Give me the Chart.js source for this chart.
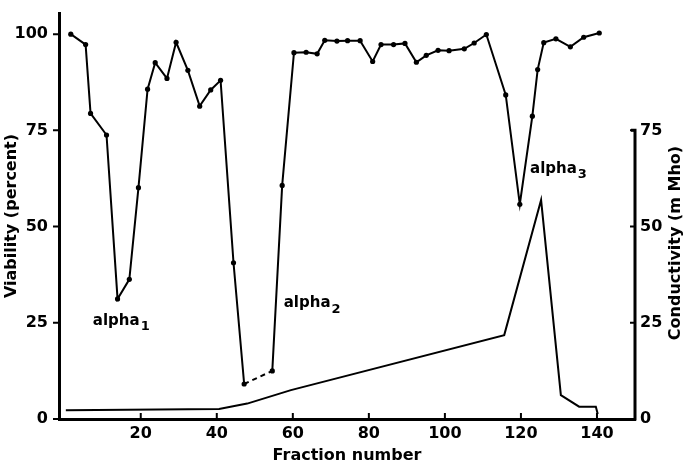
<!DOCTYPE html>
<html lang="en">
<head>
  <meta charset="UTF-8">
  <title>Viability and conductivity</title>
  <script src="https://cdn.jsdelivr.net/npm/chart.js@4/dist/chart.umd.min.js"></script>
  <style>
    html, body { margin: 0; padding: 0; background: #fff; }
    #wrap { width: 685px; height: 465px; }
  </style>
</head>
<body>
  <div id="wrap"><canvas id="myChart"></canvas></div>

  <script>
  // viability curve (fraction number vs percent)
  var fraction = [1.6, 5.5, 6.8, 11, 13.9, 17, 19.4, 21.8, 23.8, 26.9, 29.3, 32.4, 35.5, 38.4, 41, 44.4, 47.2, 54.6, 57.2, 60.3,
    63.5, 66.4, 68.4, 71.6, 74.4, 77.7, 81, 83.2, 86.5, 89.5, 92.5, 95.1, 98.2, 101.1, 105.1, 107.7, 110.9, 116, 119.7, 123,
    124.4, 126, 129.2, 133, 136.5, 140.6];
  var viability = [100, 97.3, 79.4, 73.8, 31.2, 36.3, 60.1, 85.7, 92.6, 88.5, 97.9, 90.6, 81.3, 85.5, 88, 40.6, 9.1, 12.5, 60.7, 95.2,
    95.3, 94.9, 98.4, 98.2, 98.3, 98.3, 92.9, 97.3, 97.3, 97.6, 92.7, 94.5, 95.8, 95.7, 96.2, 97.7, 99.9, 84.2, 55.8, 78.7,
    90.8, 97.8, 98.8, 96.7, 99.2, 100.3];

  // conductivity curve (mMho)
  var condFraction = [0.3, 40.6, 48, 59.5, 115.6, 125.3, 130.5, 135.3, 139.7, 140.2];
  var conductivity = [2.3, 2.6, 4, 7.5, 21.8, 56.9, 6.2, 3.2, 3.2, 1.3];

  var xTicks = [20, 40, 60, 80, 100, 120, 140];
  var leftTicks = [0, 25, 50, 75, 100];
  var rightTicks = [0, 25, 50, 75];

  // peak labels: text, subscript, fraction, value
  var peakLabels = [
    ['alpha', '1', 7.4, 25.5],
    ['alpha', '2', 57.6, 30],
    ['alpha', '3', 122.4, 65]
  ];

  var FONT = '"DejaVu Sans", sans-serif';

  function toXY(xs, ys) {
    return xs.map(function(x, i){ return {x: x, y: ys[i]}; });
  }

  var extras = {
    id: 'extras',
    afterDraw: function(chart) {
      var c = chart.ctx, a = chart.chartArea;
      var xs = chart.scales.x, yl = chart.scales.y, yr = chart.scales.y2;
      c.save();
      c.strokeStyle = '#000';
      c.fillStyle = '#000';
      c.lineWidth = 2;
      c.beginPath();
      xTicks.forEach(function(v){
        var px = xs.getPixelForValue(v);
        c.moveTo(px, a.bottom); c.lineTo(px, a.bottom - 6);
      });
      leftTicks.forEach(function(v){
        var py = yl.getPixelForValue(v);
        c.moveTo(a.left, py); c.lineTo(a.left - 6, py);
      });
      rightTicks.forEach(function(v){
        var py = yr.getPixelForValue(v);
        c.moveTo(a.right, py); c.lineTo(a.right - 5, py);
      });
      c.stroke();

      // right axis only reaches 75
      c.lineWidth = 3;
      c.beginPath();
      c.moveTo(a.right, yr.getPixelForValue(0) + 1.5);
      c.lineTo(a.right, yr.getPixelForValue(75));
      c.lineTo(a.right - 4, yr.getPixelForValue(75));
      c.stroke();

      // right axis title, reading upward
      c.font = 'bold 16px ' + FONT;
      c.textAlign = 'center';
      c.textBaseline = 'middle';
      c.translate(676, 243);
      c.rotate(-Math.PI / 2);
      c.fillText('Conductivity (m Mho)', 0, 0);
      c.restore();

      c.save();
      c.fillStyle = '#000';
      c.textBaseline = 'middle';
      c.textAlign = 'left';
      peakLabels.forEach(function(p){
        var px = xs.getPixelForValue(p[2]);
        var py = yl.getPixelForValue(p[3]);
        c.font = 'bold 15px ' + FONT;
        c.fillText(p[0], px, py);
        var w = c.measureText(p[0]).width;
        c.font = 'bold 13px ' + FONT;
        c.fillText(p[1], px + w + 1, py + 6);
      });
      c.restore();
    }
  };

  var ctx = document.getElementById('myChart');
  var myChart = new Chart(ctx, {
    type: 'line',
    data: {
      datasets: [{
        label: 'Viability',
        data: toXY(fraction, viability),
        yAxisID: 'y',
        borderColor: '#000',
        backgroundColor: '#000',
        borderWidth: 2,
        pointRadius: 2.6,
        pointBorderWidth: 0,
        fill: false,
        tension: 0,
        segment: {
          borderDash: function(s){ return (s.p0.parsed.x > 46 && s.p0.parsed.x < 50) ? [5, 4] : undefined; }
        }
      }, {
        label: 'Conductivity',
        data: toXY(condFraction, conductivity),
        yAxisID: 'y2',
        borderColor: '#000',
        borderWidth: 2,
        pointRadius: 0,
        fill: false,
        tension: 0
      }]
    },
    options: {
      responsive: true,
      maintainAspectRatio: false,
      animation: false,
      layout: { padding: { top: 13, right: 0, left: 0, bottom: 0 } },
      plugins: { legend: { display: false }, tooltip: { enabled: false } },
      scales: {
        x: {
          type: 'linear',
          min: -1.5,
          max: 150,
          afterBuildTicks: function(s){ s.ticks = xTicks.map(function(v){ return {value: v}; }); },
          afterFit: function(s){ s.height = 46; },
          grid: { display: false, drawTicks: false },
          border: { display: true, color: '#000', width: 3 },
          ticks: { color: '#000', padding: 5, maxRotation: 0, font: { family: FONT, size: 16, weight: 'bold' } },
          title: { display: true, text: 'Fraction number', color: '#000', padding: { top: 3, bottom: 0 },
                   font: { family: FONT, size: 16, weight: 'bold' } }
        },
        y: {
          position: 'left',
          min: 0,
          max: 105.5,
          afterBuildTicks: function(s){ s.ticks = leftTicks.map(function(v){ return {value: v}; }); },
          afterFit: function(s){ s.width = 59; s.paddingTop = 0; s.paddingBottom = 0; },
          grid: { display: false, drawTicks: false },
          border: { display: true, color: '#000', width: 3 },
          ticks: { color: '#000', padding: 11, font: { family: FONT, size: 16, weight: 'bold' } },
          title: { display: true, text: 'Viability (percent)', color: '#000', padding: { top: 2, bottom: 0 },
                   font: { family: FONT, size: 16, weight: 'bold' } }
        },
        y2: {
          position: 'right',
          min: 0,
          max: 105.5,
          afterBuildTicks: function(s){ s.ticks = rightTicks.map(function(v){ return {value: v}; }); },
          afterFit: function(s){ s.width = 50; s.paddingTop = 0; s.paddingBottom = 0; },
          grid: { display: false, drawTicks: false },
          border: { display: false },
          ticks: { color: '#000', padding: 5, font: { family: FONT, size: 16, weight: 'bold' } }
        }
      }
    },
    plugins: [extras]
  });
  </script>
</body>
</html>
